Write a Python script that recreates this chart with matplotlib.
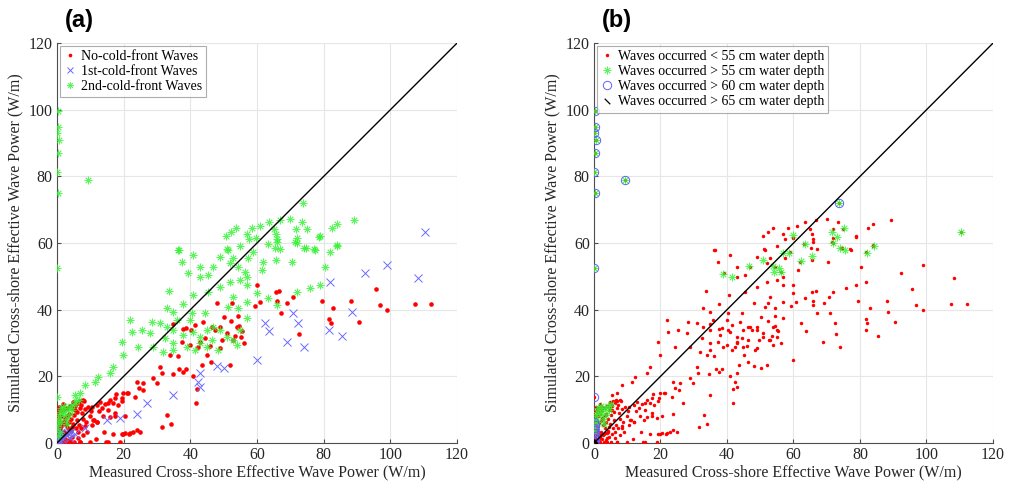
import numpy as np
import matplotlib.pyplot as plt
from matplotlib.path import Path

plt.rcParams['font.family'] = ['Liberation Serif', 'DejaVu Serif']

# ---- data (W/m) ----
# panel (a): waves grouped by cold-front condition
no_front = [
    (59.9, 47.4), (59.4, 41.1), (60.9, 42.4), (65.7, 45.4), (66.7, 45.7), (65.9, 42.7),
    (67.1, 39.1), (69.1, 41.9), (70.7, 43.9), (72.7, 32.7), (79.4, 42.6), (82.9, 40.4),
    (81.7, 37.1), (82.1, 35.9), (88.1, 42.7), (90.6, 36.2), (95.6, 46.1), (96.9, 41.3),
    (98.9, 40.0), (107.4, 41.8), (112.1, 41.8), (48.1, 42.1), (52.4, 42.1), (50.1, 37.7),
    (52.2, 36.7), (54.3, 38.1), (54.5, 35.1), (55.1, 31.7), (53.9, 34.9), (56.2, 29.9),
    (52.7, 30.9), (50.9, 32.9), (48.9, 34.9), (47.4, 33.9), (46.4, 34.9), (43.9, 36.4),
    (41.4, 35.4), (40.2, 33.9), (37.7, 34.1), (38.6, 34.4), (34.9, 35.7), (37.4, 30.4),
    (39.9, 29.4), (42.4, 28.9), (42.9, 30.4), (48.9, 28.4), (51.9, 23.4), (43.5, 23.4),
    (46.2, 24.4), (33.9, 26.4), (36.2, 26.1), (36.7, 22.1), (37.7, 21.4), (38.6, 22.1),
    (34.7, 20.7), (40.9, 20.2), (41.9, 16.1), (41.7, 12.1), (30.9, 22.9), (31.4, 20.9),
    (28.9, 19.6), (29.9, 18.1), (25.9, 17.9), (23.9, 18.4), (25.7, 15.9), (23.4, 13.9),
    (21.4, 15.1), (19.9, 14.9), (19.4, 12.6), (17.4, 13.4), (16.9, 11.9), (17.4, 8.9),
    (17.4, 8.1), (15.9, 12.9), (15.4, 11.9), (12.9, 12.4), (11.9, 11.4), (10.4, 10.9),
    (8.2, 12.6), (10.9, 6.9), (11.9, 6.4), (20.4, 8.1), (33.1, 8.4), (34.1, 5.7),
    (31.6, 4.7), (14.2, 3.4), (16.9, 2.7), (19.4, 2.7), (20.4, 2.9), (21.9, 3.1),
    (22.9, 3.4), (23.9, 3.9), (24.9, 3.4), (19.9, 2.7), (21.7, 2.7), (11.7, 1.2),
    (14.7, 0.4), (15.4, 0.4), (18.9, 0.4), (6.9, 0.2), (3.9, 0.2), (9.9, 0.4),
    (44.5, 31.5), (46.0, 29.0), (49.5, 31.0), (45.0, 26.5), (53.5, 32.0), (55.5, 33.5),
    (0.2, 0.5), (0.3, 1.5), (0.1, 2.6), (0.4, 3.8), (0.2, 5.0), (0.5, 6.2), (0.3, 7.3),
    (0.1, 8.4), (0.4, 9.5), (0.8, 9.8), (1.5, 9.6), (2.2, 10.2), (3.0, 10.6), (3.8, 11.0),
    (4.6, 10.4), (5.5, 11.2), (6.3, 12.0), (7.2, 11.4), (6.8, 12.6), (1.2, 8.2), (2.4, 7.6),
    (3.5, 8.8), (4.2, 7.2), (5.1, 8.4), (6.0, 9.3), (7.4, 9.0), (8.3, 10.2), (9.2, 10.8),
    (10.1, 9.6), (1.6, 6.0), (2.8, 5.4), (3.6, 6.4), (4.8, 5.8), (5.9, 6.8), (6.7, 5.5),
    (7.9, 7.2), (8.8, 6.4), (1.0, 4.2), (2.0, 3.4), (3.1, 2.6), (4.2, 3.6), (5.6, 4.4),
    (1.4, 2.0), (2.5, 1.2), (3.6, 0.8), (0.9, 0.3), (1.8, 0.4), (5.0, 0.3), (7.0, 0.2),
    (9.8, 8.0), (11.0, 7.0), (12.5, 9.5), (13.5, 10.5), (14.5, 11.8), (12.0, 6.3),
    (10.5, 5.5), (9.0, 3.4), (7.8, 2.4), (6.2, 1.5), (15.3, 9.8), (16.0, 7.8), (13.7, 8.0),
    (18.2, 11.3), (19.5, 13.5), (21.0, 15.0), (17.8, 14.8), (24.5, 16.5),
    (0.6, 10.8), (1.9, 11.6), (2.9, 8.2), (4.9, 12.4), (5.4, 9.9), (6.9, 10.4), (7.8, 12.9),
    (1.3, 5.0), (2.2, 6.6), (3.3, 4.4), (4.4, 4.8), (6.3, 3.3), (7.3, 4.6), (8.4, 5.2),
    (0.7, 1.0), (1.9, 2.5), (2.9, 0.3), (4.6, 1.9),
]

first_front = [
    (110.5, 63.2), (98.9, 53.4), (92.4, 51.1), (81.9, 48.4), (108.4, 49.4), (88.4, 39.4),
    (70.9, 39.1), (72.4, 36.1), (62.4, 36.1), (63.7, 33.7), (81.7, 33.9), (85.4, 32.1),
    (68.9, 30.4), (74.1, 28.9), (59.9, 24.9), (48.1, 23.1), (50.1, 22.4), (42.9, 20.9),
    (42.4, 18.4), (42.9, 16.9), (34.9, 14.4), (26.9, 11.9), (23.9, 8.7), (18.9, 7.4),
    (14.9, 6.9), (8.4, 4.4), (3.9, 2.9),
    (0.1, 0.2), (0.3, 0.6), (0.6, 1.1), (0.2, 1.6), (0.9, 0.4), (1.4, 1.2), (1.9, 1.8),
    (0.5, 2.4), (2.6, 2.4), (3.2, 3.0), (1.2, 3.2), (0.2, 3.8), (4.3, 3.4), (5.5, 2.6),
    (3.8, 1.4),
]

second_front = [
    (0.2, 99.8), (0.2, 94.8), (0.0, 93.0), (0.6, 90.8), (0.2, 87.0), (0.0, 81.3),
    (0.2, 75.1), (9.2, 79.0), (73.8, 72.0), (89.2, 66.8), (70.0, 67.3), (66.8, 67.0),
    (63.5, 66.3), (61.0, 65.0), (58.5, 64.5), (53.8, 64.5), (52.2, 63.3), (50.8, 62.0),
    (57.0, 62.8), (59.8, 61.6), (57.6, 61.3), (65.0, 64.2), (65.6, 62.8), (66.0, 61.3),
    (63.2, 59.8), (55.0, 59.0), (71.8, 64.2), (73.5, 66.3), (75.0, 64.3), (72.0, 61.6),
    (71.5, 60.3), (78.8, 62.0), (82.5, 64.5), (84.0, 65.6), (84.0, 59.0), (74.2, 58.6),
    (77.0, 58.3), (67.0, 58.3), (51.0, 58.3), (36.5, 58.0),
    (0.0, 52.4), (36.2, 57.9), (37.4, 54.4), (40.9, 56.4), (42.9, 52.9), (39.2, 50.9),
    (42.9, 49.9), (45.4, 50.4), (46.9, 52.9), (48.9, 55.9), (51.4, 57.9), (52.9, 55.4),
    (51.9, 53.9), (54.4, 52.9), (56.4, 51.4), (57.4, 55.4), (58.9, 57.4), (61.4, 51.9),
    (61.9, 54.4), (65.4, 58.4), (65.7, 54.9), (65.9, 60.4), (70.5, 54.4), (71.9, 59.9),
    (74.7, 58.4), (77.4, 57.9), (78.7, 61.9), (81.9, 57.4), (83.9, 59.4), (80.4, 52.9),
    (51.9, 48.4), (48.9, 46.9), (45.4, 45.4), (33.7, 45.7), (40.7, 44.4), (56.9, 49.9),
    (54.9, 48.9), (52.9, 43.9), (51.4, 40.9), (54.4, 40.4), (56.9, 42.4), (59.9, 44.9),
    (56.9, 47.4), (63.4, 43.4), (65.9, 41.4), (71.9, 45.4), (75.9, 46.4), (78.9, 47.4),
    (32.9, 40.4), (34.9, 39.4), (37.7, 41.7), (40.4, 38.9), (44.4, 38.9), (39.9, 36.9),
    (35.9, 36.9), (32.9, 34.9), (30.9, 35.9), (28.4, 36.4), (25.4, 33.9), (21.9, 36.9),
    (22.4, 33.4), (19.4, 30.4), (19.9, 26.4), (16.9, 22.9), (15.9, 20.9), (12.4, 19.9),
    (11.4, 18.4), (8.4, 17.4), (6.9, 14.9), (5.4, 14.4), (0.1, 13.9), (24.4, 28.9),
    (27.9, 32.9), (34.9, 33.9), (37.9, 32.4), (40.9, 33.4), (42.9, 31.9), (44.9, 33.9),
    (46.9, 34.9), (48.9, 33.9), (46.4, 30.9), (42.9, 29.9), (38.9, 28.9), (34.9, 29.9),
    (32.4, 31.4), (41.4, 27.9), (44.9, 28.9), (48.4, 27.9), (50.9, 31.9), (52.9, 30.9),
    (54.9, 33.9), (56.9, 37.4), (53.9, 29.4), (34.9, 27.9), (31.9, 27.4), (28.9, 28.9),
    (0.1, 4.5), (0.3, 5.8), (0.2, 7.0), (0.5, 8.2), (0.8, 9.3), (1.3, 6.4), (1.8, 8.6),
    (2.4, 9.6), (3.2, 10.4), (4.2, 11.2), (5.0, 11.8), (5.8, 12.6), (2.6, 7.2), (3.6, 8.4),
    (1.0, 3.2), (0.4, 2.2), (4.6, 9.8), (6.5, 13.0), (3.0, 5.6), (2.0, 11.0), (1.2, 10.6),
]

# panel (b): subsets by water depth at which the waves occurred
depth_55 = [
    (0.2, 99.8), (0.2, 94.8), (0.0, 93.0), (0.6, 90.8), (0.2, 87.0), (0.0, 81.3),
    (0.2, 75.1), (9.2, 79.0), (73.8, 72.0), (0.0, 52.4), (110.5, 63.2),
    (38.8, 50.7), (41.5, 49.7), (46.5, 53.1), (50.8, 54.9), (53.8, 53.1), (54.1, 51.4),
    (55.8, 52.4), (56.3, 51.2), (56.8, 56.9), (58.8, 57.1), (59.8, 62.4), (63.5, 59.7),
    (62.3, 54.6), (65.6, 56.1), (71.6, 63.4), (71.9, 60.1), (73.0, 61.9), (75.1, 64.4),
    (74.1, 58.4), (75.5, 57.9), (84.3, 59.2), (82.1, 57.1),
    (0.1, 4.5), (0.3, 5.8), (0.2, 7.0), (0.5, 8.2), (0.8, 9.3), (1.3, 6.4), (1.8, 8.6),
    (2.4, 9.6), (3.2, 10.4), (4.2, 11.2), (5.0, 11.8), (2.6, 7.2), (3.6, 8.4),
    (4.6, 9.8), (3.0, 5.6), (2.0, 11.0), (1.2, 10.6), (0.2, 3.2),
]
depth_60 = [
    (0.2, 99.8), (0.2, 94.8), (0.0, 93.0), (0.6, 90.8), (0.2, 87.0), (0.0, 81.3),
    (0.2, 75.1), (9.2, 79.0), (73.8, 72.0), (0.0, 52.4), (0.1, 13.9),
    (0.1, 0.2), (0.2, 0.8), (0.1, 1.5), (0.2, 2.2), (0.1, 3.0), (0.2, 3.8), (0.1, 4.6),
    (0.2, 5.4), (0.1, 6.2),
]
depth_65 = [(0.1, 0.2), (0.2, 0.6), (0.1, 1.0), (0.3, 0.3)]

ticks = [0, 20, 40, 60, 80, 100, 120]


def _xy(points):
    arr = np.array(points)
    return arr[:, 0], arr[:, 1]


backslash = Path([(-1, 1), (1, -1)], [Path.MOVETO, Path.LINETO])
asterisk = (8, 2, 0)
green = (0.2, 0.95, 0.2, 0.8)


def _style_axes(ax, label):
    ax.set_xlim(0, 120)
    ax.set_ylim(0, 120)
    ax.set_xticks(ticks)
    ax.set_yticks(ticks)
    ax.grid(True, color='0.9', linewidth=0.8)
    ax.set_axisbelow(True)
    for side in ('top', 'right'):
        ax.spines[side].set_visible(False)
    for side in ('left', 'bottom'):
        ax.spines[side].set_color('0.3')
        ax.spines[side].set_linewidth(0.8)
    ax.tick_params(direction='in', length=3, color='0.3', labelsize=11.5,
                   labelcolor='0.15', pad=3)
    ax.plot([0, 120], [0, 120], color='k', linewidth=1.0, zorder=5)
    ax.set_xlabel('Measured Cross-shore Effective Wave Power (W/m)',
                  fontsize=11.5, color='0.15', labelpad=1)
    ax.set_ylabel('Simulated Cross-shore Effective Wave Power (W/m)',
                  fontsize=11.5, color='0.15', labelpad=4)
    ax.text(0.02, 1.085, label, transform=ax.transAxes, fontsize=17,
            fontweight='bold', family='Liberation Sans', va='top', ha='left')


fig = plt.figure(figsize=(10.1, 4.87), dpi=100)
ax_a = fig.add_axes([0.0564, 0.0903, 0.396, 0.821])
ax_b = fig.add_axes([0.5881, 0.0903, 0.395, 0.821])

# (a)
x, y = _xy(no_front)
ax_a.plot(x, y, 'o', color='red', ms=3.3, mew=0, label='No-cold-front Waves', zorder=3)
x, y = _xy(first_front)
ax_a.plot(x, y, 'x', color='#6a6aff', ms=5.5, mew=0.7, label='1st-cold-front Waves', zorder=3)
x, y = _xy(second_front)
ax_a.plot(x, y, ls='none', marker=asterisk, color=green, ms=5.5, mew=0.6,
          label='2nd-cold-front Waves', zorder=4)
_style_axes(ax_a, '(a)')
leg = ax_a.legend(loc='upper left', fontsize=10, frameon=True, fancybox=False,
                  edgecolor='0.6', borderpad=0.3, labelspacing=0.15, handletextpad=0.3,
                  handlelength=0.9, borderaxespad=0.2, markerscale=0.8)
leg.get_frame().set_linewidth(0.8)

# (b)
x, y = _xy(no_front + first_front + second_front)
ax_b.plot(x, y, 'o', color='red', ms=2.5, mew=0,
          label='Waves occurred < 55 cm water depth', zorder=3)
x, y = _xy(depth_55)
ax_b.plot(x, y, ls='none', marker=asterisk, color=green, ms=5.5, mew=0.6,
          label='Waves occurred > 55 cm water depth', zorder=4)
x, y = _xy(depth_60)
ax_b.plot(x, y, 'o', mfc='none', mec='#6060ff', ms=6, mew=0.7,
          label='Waves occurred > 60 cm water depth', zorder=5)
x, y = _xy(depth_65)
ax_b.plot(x, y, ls='none', marker=backslash, color='k', ms=4, mew=0.9,
          label='Waves occurred > 65 cm water depth', zorder=6)
_style_axes(ax_b, '(b)')
leg = ax_b.legend(loc='upper left', fontsize=10, frameon=True, fancybox=False,
                  edgecolor='0.6', borderpad=0.3, labelspacing=0.15, handletextpad=0.3,
                  handlelength=0.9, borderaxespad=0.2)
leg.get_frame().set_linewidth(0.8)

fig.savefig('out.png', dpi=100)
